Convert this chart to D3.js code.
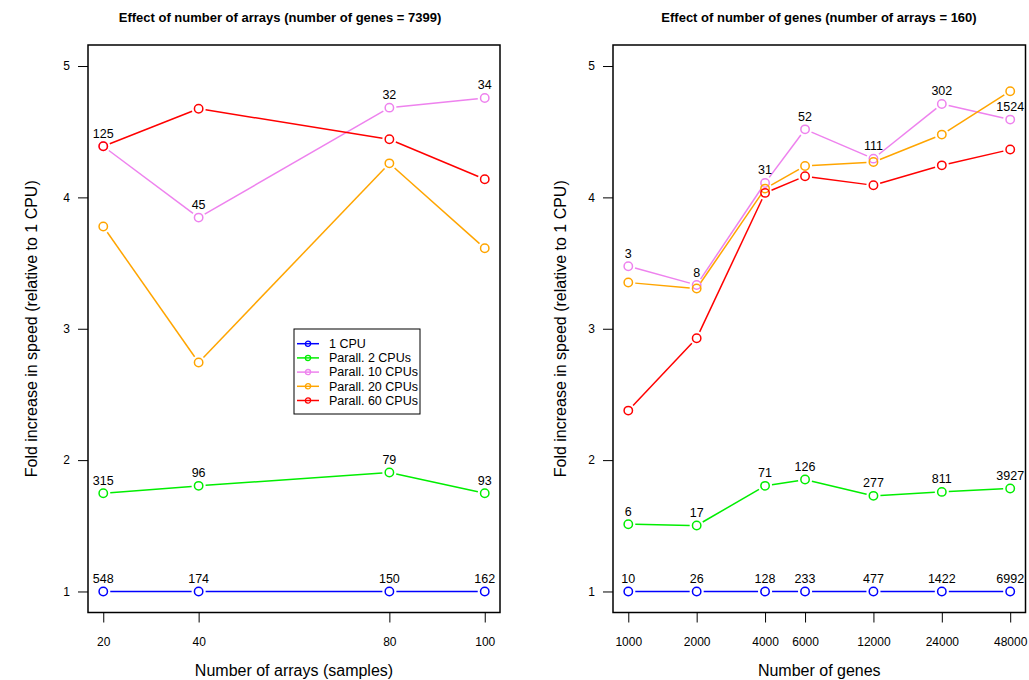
<!DOCTYPE html>
<html>
<head>
<meta charset="utf-8">
<script src="https://cdn.jsdelivr.net/npm/d3@7"></script>
<style>
  body { margin: 0; background: #fff; }
  svg text { font-family: "Liberation Sans", Arial, sans-serif; fill: #000; }
</style>
</head>
<body>
<svg id="chart" width="1029" height="680"></svg>
<script>
// series names + colours
const seriesNames = ["1 CPU", "Parall. 2 CPUs", "Parall. 10 CPUs", "Parall. 20 CPUs", "Parall. 60 CPUs"]
const seriesColors = ["#0000ff", "#00ee00", "#ee82ee", "#ffa500", "#ff0000"]

// left panel: number of arrays
const arrays = [20, 40, 80, 100]
const arrCpu1 = [1, 1, 1, 1]
const arrCpu2 = [1.748, 1.804, 1.906, 1.748]
const arrCpu10 = [4.389, 3.846, 4.683, 4.757]
const arrCpu20 = [3.778, 2.743, 4.259, 3.613]
const arrCpu60 = [4.389, 4.675, 4.442, 4.138]
// time labels (1 CPU, 2 CPUs, 10 CPUs)
const arrLab1 = ["548", "174", "150", "162"]
const arrLab2 = ["315", "96", "79", "93"]
const arrLab10 = ["125", "45", "32", "34"]

// right panel: number of genes
const genes = [1000, 2000, 4000, 6000, 12000, 24000, 48000]
const genCpu1 = [1, 1, 1, 1, 1, 1, 1]
const genCpu2 = [1.512, 1.502, 1.804, 1.852, 1.728, 1.758, 1.784]
const genCpu10 = [3.476, 3.333, 4.110, 4.518, 4.295, 4.711, 4.592]
const genCpu20 = [3.352, 3.306, 4.067, 4.239, 4.269, 4.478, 4.808]
const genCpu60 = [2.377, 2.928, 4.034, 4.161, 4.092, 4.244, 4.364]
const genLab1 = ["10", "26", "128", "233", "477", "1422", "6992"]
const genLab2 = ["6", "17", "71", "126", "277", "811", "3927"]
const genLab10 = ["3", "8", "31", "52", "111", "302", "1524"]

const yTicks = [1, 2, 3, 4, 5]

const svg = d3.select("#chart")

const drawPanel = (opts) => {
    const { left, right, top, bottom, x, xVals, series, labels, title, xTitle, titleX, yTitleX } = opts
    const g = svg.append("g")

    const y = d3.scaleLinear().domain([0.84, 5.16]).range([bottom, top])

    // title
    g.append("text").attr("x", titleX).attr("y", 21.5)
        .attr("text-anchor", "middle").style("font-weight", "bold").style("font-size", "13px")
        .text(title)

    // y axis
    const yAxis = g.append("g").attr("transform", "translate(" + left + ",0)")
        .call(d3.axisLeft(y).tickValues(yTicks).tickSize(10).tickPadding(8).tickFormat(d3.format("d")))
    yAxis.select(".domain").remove()
    yAxis.selectAll("line").attr("stroke", "#000")
    yAxis.selectAll("text").style("font-size", "12px").style("font-family", "Liberation Sans, Arial, sans-serif")

    // x axis
    const xAxis = g.append("g").attr("transform", "translate(0," + bottom + ")")
        .call(d3.axisBottom(x).tickValues(xVals).tickSize(10).tickPadding(15).tickFormat(d => d))
    xAxis.select(".domain").remove()
    xAxis.selectAll("line").attr("stroke", "#000")
    xAxis.selectAll("text").style("font-size", "12px").style("font-family", "Liberation Sans, Arial, sans-serif")

    // box
    g.append("rect").attr("x", left).attr("y", top)
        .attr("width", right - left).attr("height", bottom - top)
        .attr("fill", "none").attr("stroke", "#000").attr("stroke-width", 1.5)

    // axis titles
    g.append("text").attr("x", (left + right) / 2).attr("y", 675.5)
        .attr("text-anchor", "middle").style("font-size", "16px").text(xTitle)
    g.append("text")
        .attr("transform", "translate(" + yTitleX + "," + y(3) + ") rotate(-90)")
        .attr("text-anchor", "middle").style("font-size", "16px")
        .text("Fold increase in speed (relative to 1 CPU)")

    // lines with gaps around points (like R type = "b")
    const gap = 7
    series.forEach((vals, si) => {
        const pts = vals.map((v, i) => [x(xVals[i]), y(v)])
        const segs = d3.pairs(pts)
        g.append("g").selectAll("line")
            .data(segs)
            .enter()
            .append("line")
            .each(function (d) {
                const dx = d[1][0] - d[0][0], dy = d[1][1] - d[0][1]
                const len = Math.sqrt(dx * dx + dy * dy)
                const ux = dx / len, uy = dy / len
                d3.select(this)
                    .attr("x1", d[0][0] + ux * gap).attr("y1", d[0][1] + uy * gap)
                    .attr("x2", d[1][0] - ux * gap).attr("y2", d[1][1] - uy * gap)
            })
            .attr("stroke", seriesColors[si]).attr("stroke-width", 1.5)
        g.append("g").selectAll("circle")
            .data(pts)
            .enter()
            .append("circle")
            .attr("cx", d => d[0]).attr("cy", d => d[1]).attr("r", 4.2)
            .attr("fill", "none").attr("stroke", seriesColors[si]).attr("stroke-width", 1.5)
    })

    // time labels
    labels.forEach((lab) => {
        g.append("g").selectAll("text")
            .data(lab.text)
            .enter()
            .append("text")
            .attr("x", (d, i) => x(xVals[i]))
            .attr("y", (d, i) => y(lab.vals[i]) - 8.5)
            .attr("text-anchor", "middle").style("font-size", "12.5px")
            .text(d => d)
    })
}

// left panel
drawPanel({
    left: 88, right: 500, top: 45, bottom: 612.5,
    x: d3.scaleLinear().domain([16.8, 103.2]).range([88, 500]),
    xVals: arrays,
    series: [arrCpu1, arrCpu2, arrCpu10, arrCpu20, arrCpu60],
    labels: [
        { vals: arrCpu1, text: arrLab1 },
        { vals: arrCpu2, text: arrLab2 },
        { vals: arrCpu10, text: arrLab10 }
    ],
    title: "Effect of number of arrays (number of genes = 7399)",
    xTitle: "Number of arrays (samples)",
    titleX: 280, yTitleX: 37
})

// right panel, log x
drawPanel({
    left: 613, right: 1025.5, top: 45, bottom: 612.5,
    x: d3.scaleLog().domain([Math.pow(10, 2.9327), Math.pow(10, 4.7486)]).range([613, 1025.5]),
    xVals: genes,
    series: [genCpu1, genCpu2, genCpu10, genCpu20, genCpu60],
    labels: [
        { vals: genCpu1, text: genLab1 },
        { vals: genCpu2, text: genLab2 },
        { vals: genCpu10, text: genLab10 }
    ],
    title: "Effect of number of genes (number of arrays = 160)",
    xTitle: "Number of genes",
    titleX: 819, yTitleX: 566
})

// legend (left panel)
const leg = svg.append("g").attr("transform", "translate(294,329)")
leg.append("rect").attr("width", 126).attr("height", 85)
    .attr("fill", "#fff").attr("stroke", "#000").attr("stroke-width", 1)
const items = leg.selectAll(".item")
    .data(seriesNames)
    .enter()
    .append("g")
    .attr("transform", (d, i) => "translate(0," + (14.7 + i * 14.2) + ")")
items.append("line").attr("x1", 3).attr("x2", 25)
    .attr("stroke", (d, i) => seriesColors[i]).attr("stroke-width", 1.5)
items.append("circle").attr("cx", 14).attr("r", 2.6).attr("fill", "none")
    .attr("stroke", (d, i) => seriesColors[i]).attr("stroke-width", 1.3)
items.append("text").attr("x", 35).attr("dy", "0.35em")
    .style("font-size", "12.5px").text(d => d)
</script>
</body>
</html>
